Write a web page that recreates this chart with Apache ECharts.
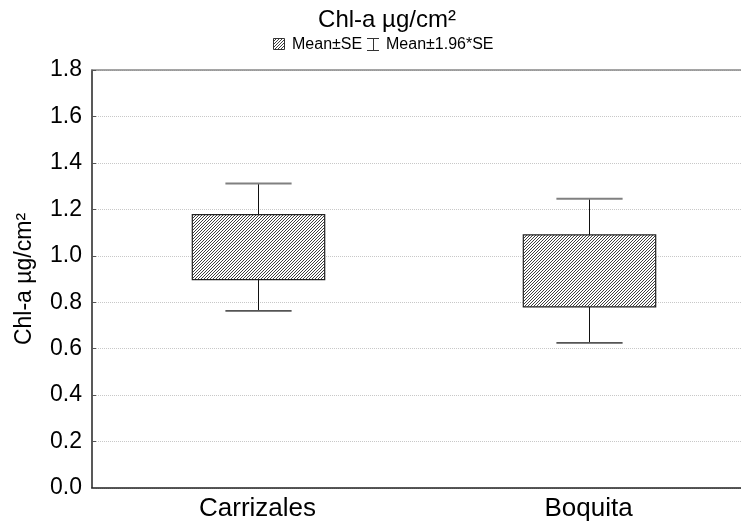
<!DOCTYPE html>
<html>
<head>
<meta charset="utf-8">
<script src="https://cdn.jsdelivr.net/npm/echarts@6/dist/echarts.min.js"></script>
<style>html,body{margin:0;padding:0;background:#fff;overflow:hidden;width:741px;height:527px;}#c{width:755px;height:527px;}</style>
</head>
<body>
<div id="c"></div>
<script>
var categories = ['Carrizales', 'Boquita'];
var boxLow = [0.897, 0.780];
var boxHigh = [1.177, 1.090];
var whiskerLow = [0.763, 0.625];
var whiskerHigh = [1.311, 1.246];
var yTicks = [0, 0.2, 0.4, 0.6, 0.8, 1.0, 1.2, 1.4, 1.6, 1.8];

function hatchCanvas(size) {
  var c = document.createElement('canvas');
  c.width = size; c.height = size;
  var ctx = c.getContext('2d');
  ctx.fillStyle = '#ffffff';
  ctx.fillRect(0, 0, size, size);
  ctx.strokeStyle = '#404040';
  ctx.lineWidth = 1;
  ctx.beginPath();
  ctx.moveTo(-1, size + 1); ctx.lineTo(size + 1, -1);
  ctx.moveTo(-1, 1); ctx.lineTo(1, -1);
  ctx.moveTo(size - 1, size + 1); ctx.lineTo(size + 1, size - 1);
  ctx.stroke();
  return c;
}
var hatch = hatchCanvas(3);

var data = categories.map(function (c, i) {
  return [i, whiskerLow[i], boxLow[i], boxHigh[i], whiskerHigh[i]];
});

var chart = echarts.init(document.getElementById('c'), null, { renderer: 'canvas' });
var font = 'Liberation Sans, Arial, sans-serif';
chart.setOption({
  animation: false,
  backgroundColor: '#ffffff',
  graphic: [
    { type: 'text', x: 387, y: 20, style: { text: 'Chl-a µg/cm²', font: '24px ' + font, fill: '#000', align: 'center', verticalAlign: 'middle' } },
    { type: 'rect', shape: { x: 273.5, y: 38.5, width: 11, height: 11 },
      style: { fill: { image: hatch, repeat: 'repeat' }, stroke: '#333', lineWidth: 1 } },
    { type: 'text', x: 292, y: 44.5, style: { text: 'Mean±SE', font: '16px ' + font, fill: '#000', verticalAlign: 'middle' } },
    { type: 'polyline', shape: { points: [[367, 38.5], [379, 38.5]] }, style: { stroke: '#333', lineWidth: 1 } },
    { type: 'polyline', shape: { points: [[373.5, 38.5], [373.5, 50.5]] }, style: { stroke: '#333', lineWidth: 1 } },
    { type: 'polyline', shape: { points: [[367, 50.5], [379, 50.5]] }, style: { stroke: '#333', lineWidth: 1 } },
    { type: 'text', x: 386, y: 44.5, style: { text: 'Mean±1.96*SE', font: '16px ' + font, fill: '#000', verticalAlign: 'middle' } }
  ],
  grid: { left: 92, top: 70, width: 662, height: 418, containLabel: false, outerBoundsMode: 'none' },
  xAxis: [{
    type: 'category',
    data: categories,
    boundaryGap: true,
    axisLine: { lineStyle: { color: '#222', width: 1.5 } },
    axisTick: { alignWithLabel: true, inside: true, length: 5, lineStyle: { color: '#222' } },
    axisLabel: { fontFamily: font, fontSize: 26, color: '#000', margin: 8 },
    splitLine: { show: false }
  }, {
    type: 'category',
    data: categories,
    position: 'top',
    axisLine: { lineStyle: { color: '#888', width: 1.5 } },
    axisTick: { show: false },
    axisLabel: { show: false }
  }],
  yAxis: {
    type: 'value',
    min: 0, max: 1.8, interval: 0.2,
    name: 'Chl-a µg/cm²',
    nameLocation: 'middle',
    nameGap: 56,
    nameRotate: 90,
    nameTextStyle: { fontFamily: font, fontSize: 23, color: '#000' },
    axisLine: { show: true, lineStyle: { color: '#222', width: 1.5 } },
    axisTick: { show: true, inside: true, length: 4, lineStyle: { color: '#555' } },
    axisLabel: {
      fontFamily: font, fontSize: 23, color: '#000', margin: 10,
      formatter: function (v) { return v.toFixed(1); }
    },
    splitLine: { show: true, lineStyle: { color: '#c8c8c8', type: 'dotted', width: 1 } }
  },
  series: [{
    type: 'custom',
    name: 'Chl-a',
    data: data,
    encode: { x: 0, y: [1, 2, 3, 4] },
    renderItem: function (params, api) {
      var xi = api.value(0);
      var band = api.size([1, 0])[0];
      var pWL = api.coord([xi, api.value(1)]);
      var pBL = api.coord([xi, api.value(2)]);
      var pBH = api.coord([xi, api.value(3)]);
      var pWH = api.coord([xi, api.value(4)]);
      var cx = Math.round(pBL[0]) + 0.5;
      var bw = band * 0.4;
      var cw = band * 0.2;
      return {
        type: 'group',
        children: [
          { type: 'line', shape: { x1: cx, y1: pWH[1], x2: cx, y2: pBH[1] }, style: { stroke: '#111', lineWidth: 1 } },
          { type: 'line', shape: { x1: cx, y1: pBL[1], x2: cx, y2: pWL[1] }, style: { stroke: '#111', lineWidth: 1 } },
          { type: 'line', shape: { x1: cx - cw / 2, y1: pWH[1], x2: cx + cw / 2, y2: pWH[1] }, style: { stroke: '#808080', lineWidth: 2 } },
          { type: 'line', shape: { x1: cx - cw / 2, y1: pWL[1], x2: cx + cw / 2, y2: pWL[1] }, style: { stroke: '#555', lineWidth: 1.8 } },
          { type: 'rect', shape: { x: cx - bw / 2, y: pBH[1], width: bw, height: pBL[1] - pBH[1] },
            style: { fill: { image: hatch, repeat: 'repeat' }, stroke: '#222', lineWidth: 1.2 } }
        ]
      };
    }
  }]
});
</script>
</body>
</html>
